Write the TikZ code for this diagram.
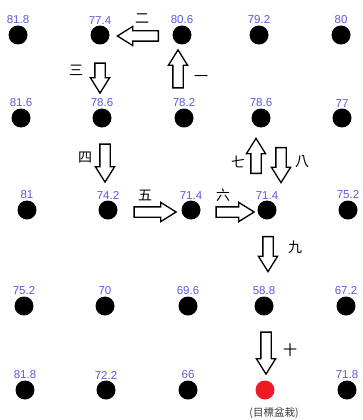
\documentclass[tikz,border=0pt]{standalone}
\usepackage{fontspec}
\setmainfont{Liberation Sans}
\newfontfamily\cjk{Noto Sans CJK TC}
\usetikzlibrary{shapes.arrows}
\definecolor{ValueBlue}{HTML}{5A5AE0}
\definecolor{TargetRed}{HTML}{ED1C24}
\definecolor{NoteGray}{HTML}{3A3A3A}

\begin{document}
\begin{tikzpicture}[x=1pt,y=-1pt,
    dot/.style={circle,fill=black,minimum size=19pt,inner sep=0pt},
    value/.style={text=ValueBlue,font=\fontsize{11.5}{12}\selectfont,inner sep=1pt},
    blockarrow/.style={single arrow,draw=black,fill=white,line width=1.3pt,
      inner sep=4.5pt,single arrow head extend=4.5pt,
      single arrow tip angle=64,shape border rotate=#1},
    steplabel/.style={font=\cjk\fontsize{14}{14}\selectfont,inner sep=0pt}]
  \useasboundingbox (0,0) rectangle (363,420);
  % sample points and their readings
  \foreach \nm/\px/\py/\val in {
      p11/18/35/81.8, p12/100/35/77.4, p13/182/35/80.6, p14/259/35/79.2, p15/341/35/80,
      p21/21/118/81.6, p22/102/118/78.6, p23/184/118/78.2, p24/261/118/78.6, p25/342/118/77,
      p31/27/210/81, p32/108/210/74.2, p33/191/210/71.4, p34/267/210/71.4, p35/348/210/75.2,
      p41/24/306/75.2, p42/105/306/70, p43/188/306/69.6, p44/264/306/58.8, p45/346/306/67.2,
      p51/25/390/81.8, p52/106/390/72.2, p53/188/390/66, p55/347/390/71.8}{
    \node[dot,label={[value]above:\val}] (\nm) at (\px,\py) {};
  }
  \node[dot,fill=TargetRed] (p54) at (265,390) {};
  \node[text=NoteGray,font=\cjk\fontsize{10.5}{11}\selectfont,inner sep=0pt]
    (target) at (274,413) {(目標盆栽)};
  % search steps
  \node[blockarrow=90,minimum height=38pt] (a1) at (178,73) {};
  \node[blockarrow=180,minimum height=41pt] (a2) at (142,36) {};
  \node[blockarrow=270,minimum height=30pt] (a3) at (100,74) {};
  \node[blockarrow=270,minimum height=38pt] (a4) at (105,159) {};
  \node[blockarrow=0,minimum height=42pt] (a5) at (151,212) {};
  \node[blockarrow=0,minimum height=38pt] (a6) at (231,212) {};
  \node[blockarrow=90,minimum height=35pt] (a7) at (256,160) {};
  \node[blockarrow=270,minimum height=35pt] (a8) at (281,161) {};
  \node[blockarrow=270,minimum height=35pt] (a9) at (268,250) {};
  \node[blockarrow=270,minimum height=42pt] (a10) at (266,349) {};
  \node[steplabel] (s1) at (201,78) {一};
  \node[steplabel] (s2) at (142,19) {二};
  \node[steplabel] (s3) at (76,70) {三};
  \node[steplabel] (s4) at (85,158) {四};
  \node[steplabel] (s5) at (145,195) {五};
  \node[steplabel] (s6) at (223,195) {六};
  \node[steplabel] (s7) at (238,162) {七};
  \node[steplabel] (s8) at (302,162) {八};
  \node[steplabel] (s9) at (295,247) {九};
  \node[steplabel] (s10) at (290,350) {十};
\end{tikzpicture}
\end{document}
